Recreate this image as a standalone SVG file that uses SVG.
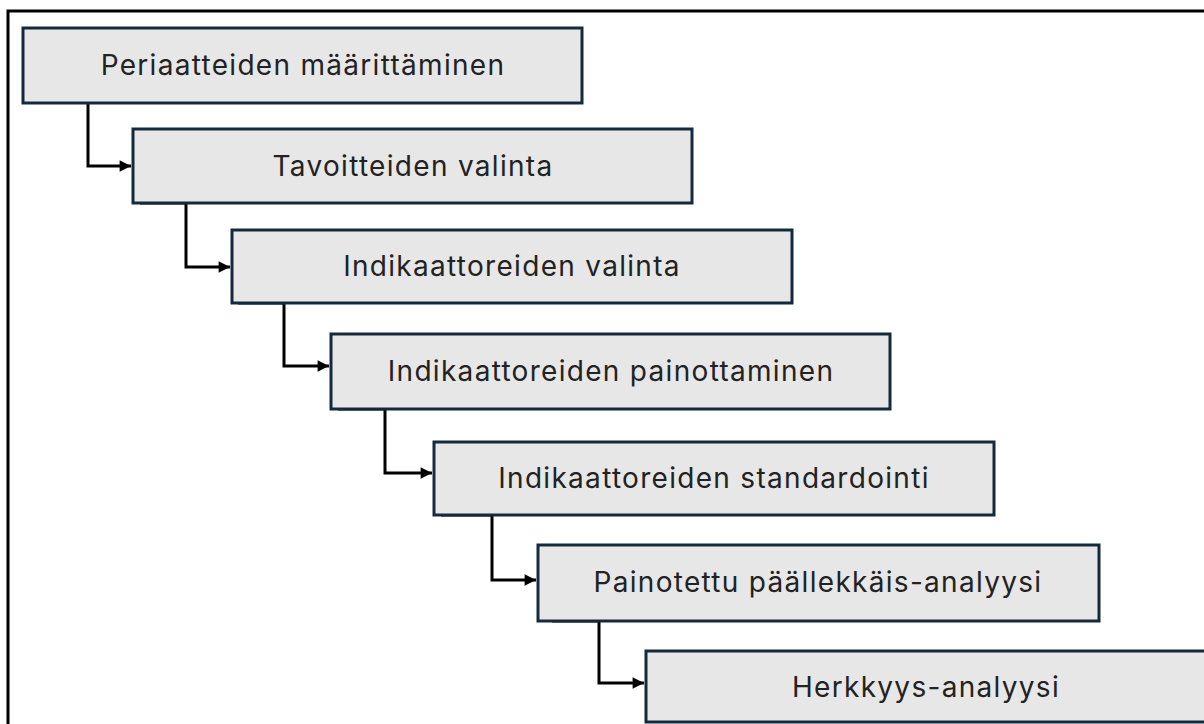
<svg xmlns="http://www.w3.org/2000/svg" width="1204" height="724" viewBox="0 0 1204 724">
<style>
.frame{fill:none;stroke:#000;stroke-width:3}
.box{fill:#e7e7e7;stroke:#142a3c;stroke-width:3}
.lbl{font-family:Inter,"Open Sans","Liberation Sans",sans-serif;font-size:28px;letter-spacing:1.3px;fill:#222;text-anchor:middle}
.con{fill:none;stroke:#000;stroke-width:3}
</style>
<defs>
<marker id="arr" viewBox="0 0 10 10" refX="10" refY="5" markerWidth="4.2" markerHeight="3.8" orient="auto" markerUnits="strokeWidth">
<path d="M0,0 L10,5 L0,10 z" fill="#000"/>
</marker>
</defs>
<rect class="frame" x="8" y="11" width="1212" height="725"/>
<g id="connectors">
<path class="con" d="M42,102 H88 V166 H131" marker-end="url(#arr)"/>
<path class="con" d="M140,203 H186 V267 H230" marker-end="url(#arr)"/>
<path class="con" d="M238,303 H284 V366 H329" marker-end="url(#arr)"/>
<path class="con" d="M338,409 H385 V473 H432" marker-end="url(#arr)"/>
<path class="con" d="M441,515 H492 V580 H536" marker-end="url(#arr)"/>
<path class="con" d="M552,621 H599 V683 H644" marker-end="url(#arr)"/>
</g>
<g id="n1"><rect class="box" x="23" y="28" width="559" height="75"/><text class="lbl" x="303" y="75">Periaatteiden määrittäminen</text></g>
<g id="n2"><rect class="box" x="133" y="129" width="559" height="74"/><text class="lbl" x="413" y="176">Tavoitteiden valinta</text></g>
<g id="n3"><rect class="box" x="232" y="230" width="560" height="73"/><text class="lbl" x="512" y="276">Indikaattoreiden valinta</text></g>
<g id="n4"><rect class="box" x="331" y="334" width="559" height="75"/><text class="lbl" x="611" y="381">Indikaattoreiden painottaminen</text></g>
<g id="n5"><rect class="box" x="434" y="442" width="560" height="73"/><text class="lbl" x="714" y="488">Indikaattoreiden standardointi</text></g>
<g id="n6"><rect class="box" x="538" y="545" width="561" height="76"/><text class="lbl" x="818" y="592">Painotettu päällekkäis-analyysi</text></g>
<g id="n7"><rect class="box" x="646" y="651" width="580" height="71"/><text class="lbl" x="926" y="697">Herkkyys-analyysi</text></g>
</svg>
